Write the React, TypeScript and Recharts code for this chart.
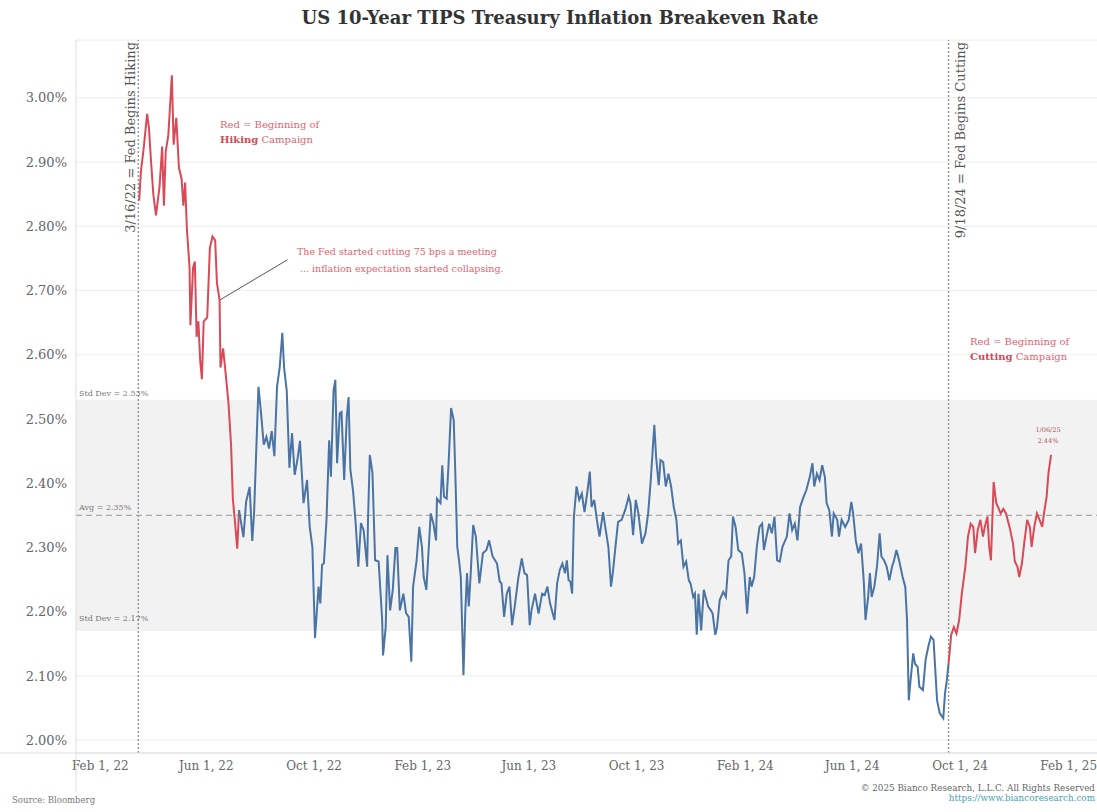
import React from 'react';
import {
  LineChart,
  Line,
  XAxis,
  YAxis,
  CartesianGrid,
  ReferenceLine,
  ReferenceArea,
} from 'recharts';

// x = days since Feb 1, 2022; y = breakeven rate in %
const hikingPhase: [number, number][] = [
  [44, 2.84], [46, 2.886], [49, 2.92], [53, 2.975], [55, 2.954], [57, 2.91], [60, 2.85], [63, 2.817],
  [67, 2.861], [70, 2.924], [72, 2.832], [74, 2.916], [77, 2.942], [81, 3.035], [83, 2.927], [86, 2.969],
  [89, 2.891], [92, 2.874], [94, 2.832], [96, 2.868], [98, 2.796], [101, 2.736], [102, 2.646], [105, 2.736],
  [107, 2.745], [109, 2.628], [111, 2.652], [113, 2.592], [115, 2.562], [117, 2.652], [121, 2.658], [124, 2.766],
  [127, 2.784], [130, 2.778], [132, 2.712], [135, 2.685], [136, 2.58], [139, 2.61], [142, 2.569], [145, 2.526],
  [148, 2.46], [150, 2.376], [152, 2.346], [155, 2.298], [157, 2.358],
];

const pausePhase: [number, number][] = [
  [157, 2.358], [162, 2.316], [165, 2.371], [169, 2.394], [172, 2.31], [174, 2.352], [179, 2.55], [182, 2.508],
  [185, 2.46], [188, 2.472], [191, 2.454], [194, 2.481], [197, 2.442], [200, 2.55], [203, 2.58], [206, 2.634],
  [208, 2.58], [211, 2.544], [214, 2.424], [217, 2.478], [220, 2.413], [223, 2.436], [226, 2.466], [230, 2.369],
  [234, 2.405], [237, 2.332], [240, 2.301], [243, 2.159], [247, 2.239], [249, 2.213], [251, 2.273], [253, 2.275],
  [256, 2.343], [259, 2.467], [261, 2.41], [264, 2.545], [266, 2.561], [268, 2.431], [271, 2.509], [273, 2.511],
  [276, 2.405], [279, 2.504], [281, 2.534], [283, 2.421], [286, 2.389], [289, 2.338], [292, 2.27], [295, 2.338],
  [298, 2.327], [302, 2.27], [303, 2.343], [305, 2.444], [308, 2.416], [311, 2.28], [315, 2.278], [319, 2.187],
  [320, 2.132], [323, 2.176], [325, 2.288], [328, 2.202], [331, 2.234], [334, 2.299], [336, 2.299], [339, 2.202],
  [343, 2.228], [346, 2.198], [349, 2.192], [352, 2.122], [354, 2.239], [358, 2.28], [361, 2.332], [364, 2.301],
  [366, 2.254], [369, 2.234], [372, 2.306], [374, 2.353], [377, 2.337], [380, 2.311], [381, 2.376], [385, 2.369],
  [387, 2.428], [389, 2.379], [392, 2.376], [394, 2.426], [397, 2.517], [400, 2.498], [402, 2.405], [404, 2.301],
  [406, 2.28], [408, 2.254], [411, 2.101], [413, 2.197], [415, 2.26], [417, 2.208], [419, 2.254], [422, 2.335],
  [425, 2.317], [429, 2.244], [433, 2.291], [437, 2.296], [440, 2.311], [444, 2.286], [449, 2.275], [452, 2.247],
  [454, 2.244], [457, 2.192], [460, 2.228], [463, 2.239], [466, 2.179], [469, 2.208], [473, 2.252], [477, 2.283],
  [480, 2.26], [483, 2.257], [486, 2.179], [488, 2.202], [492, 2.228], [496, 2.197], [500, 2.228], [503, 2.226],
  [506, 2.239], [509, 2.213], [514, 2.187], [517, 2.244], [520, 2.265], [523, 2.275], [526, 2.26], [528, 2.28],
  [530, 2.249], [532, 2.247], [534, 2.228], [536, 2.348], [539, 2.395], [542, 2.374], [545, 2.384], [548, 2.355],
  [551, 2.384], [554, 2.418], [556, 2.363], [559, 2.374], [562, 2.343], [565, 2.317], [569, 2.355], [572, 2.327],
  [575, 2.301], [578, 2.239], [580, 2.26], [583, 2.301], [586, 2.34], [590, 2.343], [594, 2.358], [598, 2.379],
  [600, 2.369], [603, 2.319], [606, 2.374], [609, 2.353], [613, 2.306], [617, 2.322], [620, 2.353], [623, 2.405],
  [627, 2.491], [629, 2.441], [632, 2.397], [634, 2.436], [637, 2.433], [640, 2.395], [643, 2.415], [646, 2.395],
  [649, 2.363], [652, 2.343], [654, 2.306], [657, 2.311], [660, 2.27], [663, 2.278], [666, 2.249], [668, 2.244],
  [671, 2.223], [673, 2.228], [675, 2.164], [677, 2.228], [680, 2.171], [683, 2.234], [686, 2.218], [688, 2.208],
  [691, 2.202], [693, 2.197], [696, 2.164], [698, 2.176], [701, 2.218], [705, 2.231], [708, 2.223], [711, 2.28],
  [714, 2.286], [716, 2.348], [719, 2.332], [722, 2.296], [726, 2.291], [729, 2.26], [732, 2.197], [735, 2.254],
  [737, 2.239], [740, 2.254], [743, 2.301], [746, 2.332], [749, 2.337], [751, 2.296], [754, 2.317], [757, 2.337],
  [760, 2.322], [763, 2.348], [766, 2.28], [769, 2.278], [772, 2.301], [777, 2.317], [780, 2.353], [783, 2.327],
  [786, 2.337], [789, 2.311], [792, 2.363], [796, 2.379], [799, 2.389], [803, 2.41], [806, 2.431], [808, 2.395],
  [811, 2.415], [814, 2.405], [817, 2.428], [820, 2.41], [822, 2.369], [825, 2.358], [828, 2.317], [830, 2.353],
  [834, 2.343], [836, 2.317], [839, 2.343], [843, 2.332], [847, 2.343], [850, 2.371], [852, 2.353], [855, 2.311],
  [858, 2.291], [861, 2.306], [864, 2.249], [866, 2.187], [869, 2.223], [871, 2.26], [873, 2.223], [876, 2.239],
  [879, 2.27], [882, 2.322], [884, 2.286], [887, 2.28], [890, 2.27], [893, 2.249], [896, 2.27], [898, 2.278],
  [901, 2.296], [904, 2.28], [908, 2.254], [911, 2.239], [913, 2.187], [915, 2.062], [917, 2.093], [920, 2.135],
  [922, 2.119], [925, 2.114], [927, 2.083], [931, 2.078], [934, 2.125], [937, 2.145], [940, 2.161], [943, 2.156],
  [945, 2.109], [947, 2.062], [950, 2.042], [954, 2.034], [956, 2.073], [958, 2.093], [960, 2.119],
];

const cuttingPhase: [number, number][] = [
  [960, 2.119], [963, 2.164], [966, 2.176], [969, 2.166], [972, 2.187], [975, 2.228], [979, 2.27], [982, 2.317],
  [985, 2.337], [988, 2.332], [990, 2.291], [993, 2.327], [996, 2.343], [999, 2.317], [1001, 2.332], [1004, 2.348],
  [1006, 2.301], [1008, 2.28], [1011, 2.402], [1014, 2.369], [1016, 2.363], [1019, 2.353], [1022, 2.36], [1025, 2.353],
  [1029, 2.332], [1033, 2.306], [1035, 2.278], [1038, 2.27], [1040, 2.254], [1043, 2.275], [1046, 2.311], [1049, 2.343],
  [1052, 2.332], [1054, 2.301], [1057, 2.332], [1060, 2.353], [1063, 2.343], [1066, 2.332], [1068, 2.353], [1071, 2.379],
  [1073, 2.415], [1076, 2.444],
];

const xTicks = [0, 120, 242, 365, 485, 607, 730, 851, 973, 1096];
const xTickLabels = [
  'Feb 1, 22', 'Jun 1, 22', 'Oct 1, 22', 'Feb 1, 23', 'Jun 1, 23',
  'Oct 1, 23', 'Feb 1, 24', 'Jun 1, 24', 'Oct 1, 24', 'Feb 1, 25',
];
const yTicks = [2.0, 2.1, 2.2, 2.3, 2.4, 2.5, 2.6, 2.7, 2.8, 2.9, 3.0];

const AVG = 2.35;
const STD_HIGH = 2.53;
const STD_LOW = 2.17;
const HIKE_DAY = 43; // 3/16/22
const CUT_DAY = 960; // 9/18/24
const ARROW_FROM = { x: 212, y: 2.748 };
const ARROW_TO = { x: 135, y: 2.685 };

const RED = '#d94a56';
const BLUE = '#4a74a4';
const FONT = '"DejaVu Serif", serif';

const toRows = (pts: [number, number][]) => pts.map(([d, v]) => ({ d, v }));

const hikeLabel = (props: any) => {
  const vb = props.viewBox || {};
  const x = vb.x - 3;
  const y = vb.y + 2;
  return (
    <text
      x={x}
      y={y}
      transform={`rotate(-90 ${x} ${y})`}
      textAnchor="end"
      fontSize={13}
      fontFamily={FONT}
      fill="#555"
    >
      3/16/22 = Fed Begins Hiking
    </text>
  );
};

const cutLabel = (props: any) => {
  const vb = props.viewBox || {};
  const x = vb.x + 16;
  const y = vb.y + 2;
  return (
    <text
      x={x}
      y={y}
      transform={`rotate(-90 ${x} ${y})`}
      textAnchor="end"
      fontSize={13}
      fontFamily={FONT}
      fill="#555"
    >
      9/18/24 = Fed Begins Cutting
    </text>
  );
};

export default function App() {
  return (
    <div
      style={{
        position: 'absolute',
        left: 0,
        top: 0,
        width: 1097,
        height: 812,
        background: '#fff',
        fontFamily: FONT,
        overflow: 'hidden',
      }}
    >
      <LineChart width={1097} height={812} margin={{ top: 40, right: 0, bottom: 29, left: 0 }}>
        <CartesianGrid vertical={false} stroke="#ececec" />
        <ReferenceArea y1={STD_LOW} y2={STD_HIGH} fill="#f2f2f2" fillOpacity={1} stroke="none" />
        <XAxis
          type="number"
          dataKey="d"
          domain={[-27.5, 1128]}
          ticks={xTicks}
          tickFormatter={(v: number) => xTickLabels[xTicks.indexOf(v)]}
          allowDataOverflow
          height={30}
          tickSize={0}
          tickMargin={8}
          axisLine={{ stroke: '#dddddd' }}
          tick={{ fill: '#666', fontSize: 12, fontFamily: FONT }}
        />
        <YAxis
          type="number"
          domain={[1.98, 3.09]}
          ticks={yTicks}
          tickFormatter={(v: number) => v.toFixed(2) + '%'}
          allowDataOverflow
          width={76}
          tickSize={0}
          tickMargin={9}
          axisLine={{ stroke: '#dddddd' }}
          tick={{ fill: '#666', fontSize: 13, fontFamily: FONT }}
        />
        <ReferenceLine y={AVG} stroke="#aaa" strokeWidth={1.2} strokeDasharray="6 4" />
        <ReferenceLine x={HIKE_DAY} stroke="#999" strokeWidth={1.5} strokeDasharray="2 2" label={hikeLabel} />
        <ReferenceLine x={CUT_DAY} stroke="#999" strokeWidth={1.5} strokeDasharray="2 2" label={cutLabel} />
        <ReferenceLine segment={[ARROW_FROM, ARROW_TO]} stroke="#555" strokeWidth={1} />
        <Line
          data={toRows(hikingPhase)}
          dataKey="v"
          type="linear"
          stroke={RED}
          strokeWidth={2}
          dot={false}
          isAnimationActive={false}
        />
        <Line
          data={toRows(pausePhase)}
          dataKey="v"
          type="linear"
          stroke={BLUE}
          strokeWidth={2}
          dot={false}
          isAnimationActive={false}
        />
        <Line
          data={toRows(cuttingPhase)}
          dataKey="v"
          type="linear"
          stroke={RED}
          strokeWidth={2}
          dot={false}
          isAnimationActive={false}
        />
      </LineChart>

      <svg
        width={1097}
        height={812}
        style={{ position: 'absolute', left: 0, top: 0, pointerEvents: 'none' }}
        fontFamily={FONT}
      >
        <text x={560} y={24} textAnchor="middle" fontSize={18} fontWeight="bold" fill="#333">
          US 10-Year TIPS Treasury Inflation Breakeven Rate
        </text>

        <line x1={0} y1={753} x2={76} y2={753} stroke="#dddddd" />
        <line x1={76} y1={753} x2={76} y2={792} stroke="#dddddd" />

        <text x={79} y={396} fontSize={8} fill="#777">Std Dev = 2.53%</text>
        <text x={79} y={510} fontSize={8} fill="#777">Avg = 2.35%</text>
        <text x={79} y={621} fontSize={8} fill="#777">Std Dev = 2.17%</text>

        <text x={220} y={128} fontSize={10} fill="#e06470">Red = Beginning of</text>
        <text x={220} y={143} fontSize={10} fill="#e06470">
          <tspan fontWeight="bold" fill="#d04a55">Hiking</tspan> Campaign
        </text>

        <text x={297} y={255} fontSize={9.5} fill="#e06470">The Fed started cutting 75 bps a meeting</text>
        <text x={300} y={272} fontSize={9.5} fill="#e06470">... inflation expectation started collapsing.</text>

        <text x={970} y={345} fontSize={10} fill="#e06470">Red = Beginning of</text>
        <text x={970} y={360} fontSize={10} fill="#e06470">
          <tspan fontWeight="bold" fill="#d04a55">Cutting</tspan> Campaign
        </text>

        <text x={1048} y={432} textAnchor="middle" fontSize={6.5} fill="#b5535a">1/06/25</text>
        <text x={1048} y={443} textAnchor="middle" fontSize={6.5} fill="#b5535a">2.44%</text>

        <text x={12} y={803} fontSize={8.5} fill="#777">Source: Bloomberg</text>
        <text x={1095} y={791} textAnchor="end" fontSize={8.8} fill="#666">
          © 2025 Bianco Research, L.L.C. All Rights Reserved
        </text>
        <text x={1095} y={801} textAnchor="end" fontSize={8.8} fill="#4a9fb0">
          https://www.biancoresearch.com
        </text>
      </svg>
    </div>
  );
}
